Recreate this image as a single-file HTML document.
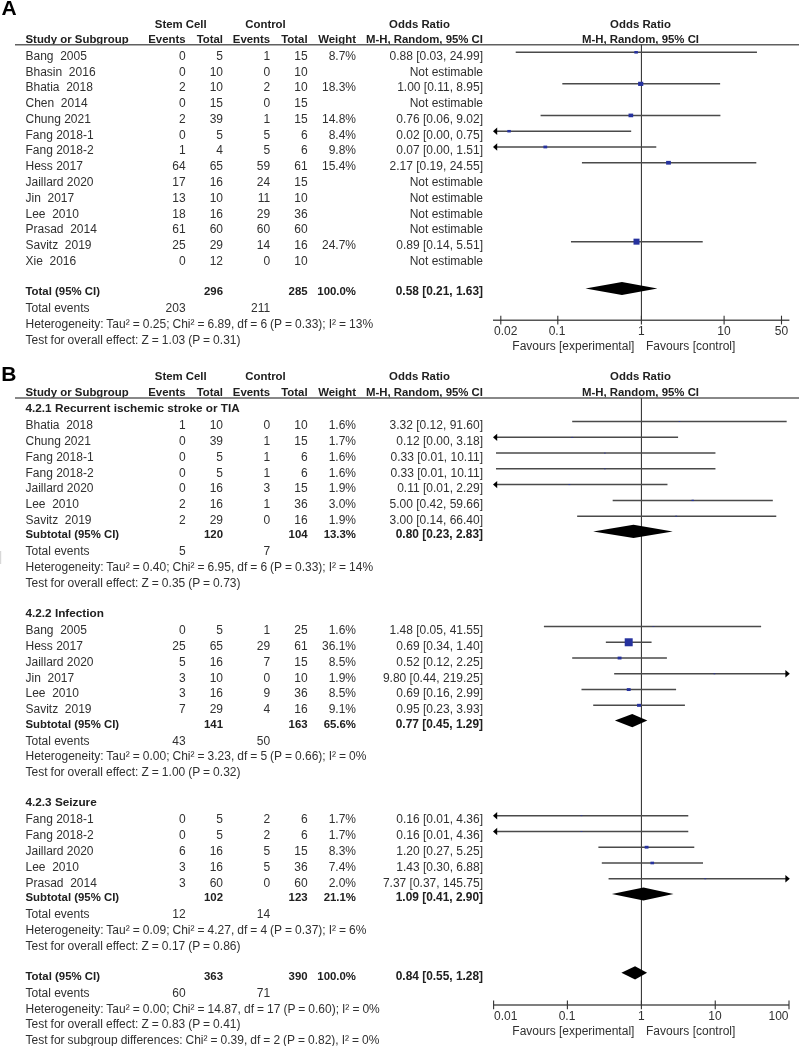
<!DOCTYPE html>
<html><head><meta charset="utf-8"><style>
html,body{margin:0;padding:0;background:#fff;}
svg{display:block;will-change:transform;}
text{font-family:"Liberation Sans", sans-serif;white-space:pre;}
</style></head><body>
<svg width="800" height="1046" viewBox="0 0 800 1046">
<rect width="800" height="1046" fill="#fff"/>
<text x="1.60" y="15.00" text-anchor="start" font-size="21" font-weight="bold" fill="#000">A</text>
<text x="180.75" y="27.50" text-anchor="middle" font-size="11.4" font-weight="bold" fill="#202020">Stem Cell</text>
<text x="265.50" y="27.50" text-anchor="middle" font-size="11.4" font-weight="bold" fill="#202020">Control</text>
<text x="419.50" y="27.50" text-anchor="middle" font-size="11.4" font-weight="bold" fill="#202020">Odds Ratio</text>
<text x="640.50" y="27.50" text-anchor="middle" font-size="11.4" font-weight="bold" fill="#202020">Odds Ratio</text>
<text x="25.50" y="43.00" text-anchor="start" font-size="11.4" font-weight="bold" fill="#202020">Study or Subgroup</text>
<text x="185.60" y="43.00" text-anchor="end" font-size="11.4" font-weight="bold" fill="#202020">Events</text>
<text x="223.00" y="43.00" text-anchor="end" font-size="11.4" font-weight="bold" fill="#202020">Total</text>
<text x="270.20" y="43.00" text-anchor="end" font-size="11.4" font-weight="bold" fill="#202020">Events</text>
<text x="307.60" y="43.00" text-anchor="end" font-size="11.4" font-weight="bold" fill="#202020">Total</text>
<text x="356.00" y="43.00" text-anchor="end" font-size="11.4" font-weight="bold" fill="#202020">Weight</text>
<text x="483.00" y="43.00" text-anchor="end" font-size="11.4" font-weight="bold" fill="#202020">M-H, Random, 95% CI</text>
<text x="640.50" y="43.00" text-anchor="middle" font-size="11.4" font-weight="bold" fill="#202020">M-H, Random, 95% CI</text>
<line x1="15.00" y1="44.75" x2="799.00" y2="44.75" stroke="#606060" stroke-width="1.7"/>
<line x1="641.40" y1="44.75" x2="641.40" y2="320.20" stroke="#262626" stroke-width="1.0"/>
<text x="25.50" y="59.80" text-anchor="start" font-size="12.0" fill="#303030">Bang  2005</text>
<text x="185.60" y="59.80" text-anchor="end" font-size="12.0" fill="#303030">0</text>
<text x="223.00" y="59.80" text-anchor="end" font-size="12.0" fill="#303030">5</text>
<text x="270.20" y="59.80" text-anchor="end" font-size="12.0" fill="#303030">1</text>
<text x="307.60" y="59.80" text-anchor="end" font-size="12.0" fill="#303030">15</text>
<text x="356.00" y="59.80" text-anchor="end" font-size="12.0" fill="#303030">8.7%</text>
<text x="483.00" y="59.80" text-anchor="end" font-size="12.0" fill="#303030">0.88 [0.03, 24.99]</text>
<line x1="515.71" y1="52.30" x2="756.96" y2="52.30" stroke="#4a4a4a" stroke-width="1.5"/>
<rect x="634.33" y="51.02" width="3.57" height="2.57" fill="#26329e"/>
<text x="25.50" y="75.58" text-anchor="start" font-size="12.0" fill="#303030">Bhasin  2016</text>
<text x="185.60" y="75.58" text-anchor="end" font-size="12.0" fill="#303030">0</text>
<text x="223.00" y="75.58" text-anchor="end" font-size="12.0" fill="#303030">10</text>
<text x="270.20" y="75.58" text-anchor="end" font-size="12.0" fill="#303030">0</text>
<text x="307.60" y="75.58" text-anchor="end" font-size="12.0" fill="#303030">10</text>
<text x="483.00" y="75.58" text-anchor="end" font-size="12.0" fill="#303030">Not estimable</text>
<text x="25.50" y="91.36" text-anchor="start" font-size="12.0" fill="#303030">Bhatia  2018</text>
<text x="185.60" y="91.36" text-anchor="end" font-size="12.0" fill="#303030">2</text>
<text x="223.00" y="91.36" text-anchor="end" font-size="12.0" fill="#303030">10</text>
<text x="270.20" y="91.36" text-anchor="end" font-size="12.0" fill="#303030">2</text>
<text x="307.60" y="91.36" text-anchor="end" font-size="12.0" fill="#303030">10</text>
<text x="356.00" y="91.36" text-anchor="end" font-size="12.0" fill="#303030">18.3%</text>
<text x="483.00" y="91.36" text-anchor="end" font-size="12.0" fill="#303030">1.00 [0.11, 8.95]</text>
<line x1="562.32" y1="83.86" x2="720.12" y2="83.86" stroke="#4a4a4a" stroke-width="1.5"/>
<rect x="638.11" y="81.77" width="5.18" height="4.18" fill="#26329e"/>
<text x="25.50" y="107.14" text-anchor="start" font-size="12.0" fill="#303030">Chen  2014</text>
<text x="185.60" y="107.14" text-anchor="end" font-size="12.0" fill="#303030">0</text>
<text x="223.00" y="107.14" text-anchor="end" font-size="12.0" fill="#303030">15</text>
<text x="270.20" y="107.14" text-anchor="end" font-size="12.0" fill="#303030">0</text>
<text x="307.60" y="107.14" text-anchor="end" font-size="12.0" fill="#303030">15</text>
<text x="483.00" y="107.14" text-anchor="end" font-size="12.0" fill="#303030">Not estimable</text>
<text x="25.50" y="122.92" text-anchor="start" font-size="12.0" fill="#303030">Chung 2021</text>
<text x="185.60" y="122.92" text-anchor="end" font-size="12.0" fill="#303030">2</text>
<text x="223.00" y="122.92" text-anchor="end" font-size="12.0" fill="#303030">39</text>
<text x="270.20" y="122.92" text-anchor="end" font-size="12.0" fill="#303030">1</text>
<text x="307.60" y="122.92" text-anchor="end" font-size="12.0" fill="#303030">15</text>
<text x="356.00" y="122.92" text-anchor="end" font-size="12.0" fill="#303030">14.8%</text>
<text x="483.00" y="122.92" text-anchor="end" font-size="12.0" fill="#303030">0.76 [0.06, 9.02]</text>
<line x1="540.58" y1="115.42" x2="720.40" y2="115.42" stroke="#4a4a4a" stroke-width="1.5"/>
<rect x="628.53" y="113.59" width="4.65" height="3.65" fill="#26329e"/>
<text x="25.50" y="138.70" text-anchor="start" font-size="12.0" fill="#303030">Fang 2018-1</text>
<text x="185.60" y="138.70" text-anchor="end" font-size="12.0" fill="#303030">0</text>
<text x="223.00" y="138.70" text-anchor="end" font-size="12.0" fill="#303030">5</text>
<text x="270.20" y="138.70" text-anchor="end" font-size="12.0" fill="#303030">5</text>
<text x="307.60" y="138.70" text-anchor="end" font-size="12.0" fill="#303030">6</text>
<text x="356.00" y="138.70" text-anchor="end" font-size="12.0" fill="#303030">8.4%</text>
<text x="483.00" y="138.70" text-anchor="end" font-size="12.0" fill="#303030">0.02 [0.00, 0.75]</text>
<line x1="496.00" y1="131.20" x2="631.18" y2="131.20" stroke="#4a4a4a" stroke-width="1.5"/>
<polygon points="493.00,131.20 497.20,127.50 497.20,134.90" fill="#000"/>
<rect x="507.33" y="129.95" width="3.51" height="2.51" fill="#26329e"/>
<text x="25.50" y="154.48" text-anchor="start" font-size="12.0" fill="#303030">Fang 2018-2</text>
<text x="185.60" y="154.48" text-anchor="end" font-size="12.0" fill="#303030">1</text>
<text x="223.00" y="154.48" text-anchor="end" font-size="12.0" fill="#303030">4</text>
<text x="270.20" y="154.48" text-anchor="end" font-size="12.0" fill="#303030">5</text>
<text x="307.60" y="154.48" text-anchor="end" font-size="12.0" fill="#303030">6</text>
<text x="356.00" y="154.48" text-anchor="end" font-size="12.0" fill="#303030">9.8%</text>
<text x="483.00" y="154.48" text-anchor="end" font-size="12.0" fill="#303030">0.07 [0.00, 1.51]</text>
<line x1="496.00" y1="146.98" x2="656.28" y2="146.98" stroke="#4a4a4a" stroke-width="1.5"/>
<polygon points="493.00,146.98 497.20,143.28 497.20,150.68" fill="#000"/>
<rect x="543.41" y="145.59" width="3.79" height="2.79" fill="#26329e"/>
<text x="25.50" y="170.26" text-anchor="start" font-size="12.0" fill="#303030">Hess 2017</text>
<text x="185.60" y="170.26" text-anchor="end" font-size="12.0" fill="#303030">64</text>
<text x="223.00" y="170.26" text-anchor="end" font-size="12.0" fill="#303030">65</text>
<text x="270.20" y="170.26" text-anchor="end" font-size="12.0" fill="#303030">59</text>
<text x="307.60" y="170.26" text-anchor="end" font-size="12.0" fill="#303030">61</text>
<text x="356.00" y="170.26" text-anchor="end" font-size="12.0" fill="#303030">15.4%</text>
<text x="483.00" y="170.26" text-anchor="end" font-size="12.0" fill="#303030">2.17 [0.19, 24.55]</text>
<line x1="581.93" y1="162.76" x2="756.32" y2="162.76" stroke="#4a4a4a" stroke-width="1.5"/>
<rect x="666.12" y="160.89" width="4.75" height="3.75" fill="#26329e"/>
<text x="25.50" y="186.04" text-anchor="start" font-size="12.0" fill="#303030">Jaillard 2020</text>
<text x="185.60" y="186.04" text-anchor="end" font-size="12.0" fill="#303030">17</text>
<text x="223.00" y="186.04" text-anchor="end" font-size="12.0" fill="#303030">16</text>
<text x="270.20" y="186.04" text-anchor="end" font-size="12.0" fill="#303030">24</text>
<text x="307.60" y="186.04" text-anchor="end" font-size="12.0" fill="#303030">15</text>
<text x="483.00" y="186.04" text-anchor="end" font-size="12.0" fill="#303030">Not estimable</text>
<text x="25.50" y="201.82" text-anchor="start" font-size="12.0" fill="#303030">Jin  2017</text>
<text x="185.60" y="201.82" text-anchor="end" font-size="12.0" fill="#303030">13</text>
<text x="223.00" y="201.82" text-anchor="end" font-size="12.0" fill="#303030">10</text>
<text x="270.20" y="201.82" text-anchor="end" font-size="12.0" fill="#303030">11</text>
<text x="307.60" y="201.82" text-anchor="end" font-size="12.0" fill="#303030">10</text>
<text x="483.00" y="201.82" text-anchor="end" font-size="12.0" fill="#303030">Not estimable</text>
<text x="25.50" y="217.60" text-anchor="start" font-size="12.0" fill="#303030">Lee  2010</text>
<text x="185.60" y="217.60" text-anchor="end" font-size="12.0" fill="#303030">18</text>
<text x="223.00" y="217.60" text-anchor="end" font-size="12.0" fill="#303030">16</text>
<text x="270.20" y="217.60" text-anchor="end" font-size="12.0" fill="#303030">29</text>
<text x="307.60" y="217.60" text-anchor="end" font-size="12.0" fill="#303030">36</text>
<text x="483.00" y="217.60" text-anchor="end" font-size="12.0" fill="#303030">Not estimable</text>
<text x="25.50" y="233.38" text-anchor="start" font-size="12.0" fill="#303030">Prasad  2014</text>
<text x="185.60" y="233.38" text-anchor="end" font-size="12.0" fill="#303030">61</text>
<text x="223.00" y="233.38" text-anchor="end" font-size="12.0" fill="#303030">60</text>
<text x="270.20" y="233.38" text-anchor="end" font-size="12.0" fill="#303030">60</text>
<text x="307.60" y="233.38" text-anchor="end" font-size="12.0" fill="#303030">60</text>
<text x="483.00" y="233.38" text-anchor="end" font-size="12.0" fill="#303030">Not estimable</text>
<text x="25.50" y="249.16" text-anchor="start" font-size="12.0" fill="#303030">Savitz  2019</text>
<text x="185.60" y="249.16" text-anchor="end" font-size="12.0" fill="#303030">25</text>
<text x="223.00" y="249.16" text-anchor="end" font-size="12.0" fill="#303030">29</text>
<text x="270.20" y="249.16" text-anchor="end" font-size="12.0" fill="#303030">14</text>
<text x="307.60" y="249.16" text-anchor="end" font-size="12.0" fill="#303030">16</text>
<text x="356.00" y="249.16" text-anchor="end" font-size="12.0" fill="#303030">24.7%</text>
<text x="483.00" y="249.16" text-anchor="end" font-size="12.0" fill="#303030">0.89 [0.14, 5.51]</text>
<line x1="570.97" y1="241.66" x2="702.72" y2="241.66" stroke="#4a4a4a" stroke-width="1.5"/>
<rect x="633.51" y="238.65" width="6.01" height="6.01" fill="#26329e"/>
<text x="25.50" y="264.94" text-anchor="start" font-size="12.0" fill="#303030">Xie  2016</text>
<text x="185.60" y="264.94" text-anchor="end" font-size="12.0" fill="#303030">0</text>
<text x="223.00" y="264.94" text-anchor="end" font-size="12.0" fill="#303030">12</text>
<text x="270.20" y="264.94" text-anchor="end" font-size="12.0" fill="#303030">0</text>
<text x="307.60" y="264.94" text-anchor="end" font-size="12.0" fill="#303030">10</text>
<text x="483.00" y="264.94" text-anchor="end" font-size="12.0" fill="#303030">Not estimable</text>
<text x="25.50" y="295.25" text-anchor="start" font-size="11.4" font-weight="bold" fill="#202020">Total (95% CI)</text>
<text x="223.00" y="295.25" text-anchor="end" font-size="11.4" font-weight="bold" fill="#202020">296</text>
<text x="307.60" y="295.25" text-anchor="end" font-size="11.4" font-weight="bold" fill="#202020">285</text>
<text x="356.00" y="295.25" text-anchor="end" font-size="11.4" font-weight="bold" fill="#202020">100.0%</text>
<text x="483.00" y="295.25" text-anchor="end" font-size="11.9" font-weight="bold" fill="#202020">0.58 [0.21, 1.63]</text>
<polygon points="585.52,288.50 621.96,281.90 657.43,288.50 621.96,295.10" fill="#000"/>
<text x="25.50" y="312.28" text-anchor="start" font-size="12.0" fill="#303030">Total events</text>
<text x="185.60" y="312.28" text-anchor="end" font-size="12.0" fill="#303030">203</text>
<text x="270.20" y="312.28" text-anchor="end" font-size="12.0" fill="#303030">211</text>
<text x="25.50" y="328.06" text-anchor="start" font-size="12.0" word-spacing="-0.3" fill="#303030">Heterogeneity: Tau² = 0.25; Chi² = 6.89, df = 6 (P = 0.33); I² = 13%</text>
<text x="25.50" y="343.84" text-anchor="start" font-size="12.0" word-spacing="-0.3" fill="#303030">Test for overall effect: Z = 1.03 (P = 0.31)</text>
<line x1="493.00" y1="320.20" x2="789.40" y2="320.20" stroke="#555" stroke-width="1.4"/>
<line x1="500.80" y1="315.70" x2="500.80" y2="324.40" stroke="#333" stroke-width="1.1"/>
<text x="494.00" y="335.40" text-anchor="start" font-size="12.0" fill="#303030">0.02</text>
<line x1="557.80" y1="315.70" x2="557.80" y2="324.40" stroke="#333" stroke-width="1.1"/>
<text x="557.00" y="335.40" text-anchor="middle" font-size="12.0" fill="#303030">0.1</text>
<line x1="641.40" y1="315.70" x2="641.40" y2="324.40" stroke="#333" stroke-width="1.1"/>
<text x="641.40" y="335.40" text-anchor="middle" font-size="12.0" fill="#303030">1</text>
<line x1="724.10" y1="315.70" x2="724.10" y2="324.40" stroke="#333" stroke-width="1.1"/>
<text x="724.00" y="335.40" text-anchor="middle" font-size="12.0" fill="#303030">10</text>
<line x1="781.50" y1="315.70" x2="781.50" y2="324.40" stroke="#333" stroke-width="1.1"/>
<text x="781.50" y="335.40" text-anchor="middle" font-size="12.0" fill="#303030">50</text>
<text x="634.40" y="349.50" text-anchor="end" font-size="12.0" fill="#303030">Favours [experimental]</text>
<text x="646.00" y="349.50" text-anchor="start" font-size="12.0" fill="#303030">Favours [control]</text>
<text x="1.20" y="380.60" text-anchor="start" font-size="21" font-weight="bold" fill="#000">B</text>
<rect x="0.00" y="551.00" width="1.20" height="13.00" fill="#d8d8d8"/>
<text x="180.75" y="380.00" text-anchor="middle" font-size="11.4" font-weight="bold" fill="#202020">Stem Cell</text>
<text x="265.50" y="380.00" text-anchor="middle" font-size="11.4" font-weight="bold" fill="#202020">Control</text>
<text x="419.50" y="380.00" text-anchor="middle" font-size="11.4" font-weight="bold" fill="#202020">Odds Ratio</text>
<text x="640.50" y="380.00" text-anchor="middle" font-size="11.4" font-weight="bold" fill="#202020">Odds Ratio</text>
<text x="25.50" y="396.30" text-anchor="start" font-size="11.4" font-weight="bold" fill="#202020">Study or Subgroup</text>
<text x="185.60" y="396.30" text-anchor="end" font-size="11.4" font-weight="bold" fill="#202020">Events</text>
<text x="223.00" y="396.30" text-anchor="end" font-size="11.4" font-weight="bold" fill="#202020">Total</text>
<text x="270.20" y="396.30" text-anchor="end" font-size="11.4" font-weight="bold" fill="#202020">Events</text>
<text x="307.60" y="396.30" text-anchor="end" font-size="11.4" font-weight="bold" fill="#202020">Total</text>
<text x="356.00" y="396.30" text-anchor="end" font-size="11.4" font-weight="bold" fill="#202020">Weight</text>
<text x="483.00" y="396.30" text-anchor="end" font-size="11.4" font-weight="bold" fill="#202020">M-H, Random, 95% CI</text>
<text x="640.50" y="396.30" text-anchor="middle" font-size="11.4" font-weight="bold" fill="#202020">M-H, Random, 95% CI</text>
<line x1="15.00" y1="398.00" x2="799.00" y2="398.00" stroke="#606060" stroke-width="1.7"/>
<line x1="641.40" y1="398.20" x2="641.40" y2="1005.00" stroke="#262626" stroke-width="1.0"/>
<text x="25.50" y="412.35" text-anchor="start" font-size="11.75" font-weight="bold" fill="#202020">4.2.1 Recurrent ischemic stroke or TIA</text>
<text x="25.50" y="429.37" text-anchor="start" font-size="12.0" fill="#303030">Bhatia  2018</text>
<text x="185.60" y="429.37" text-anchor="end" font-size="12.0" fill="#303030">1</text>
<text x="223.00" y="429.37" text-anchor="end" font-size="12.0" fill="#303030">10</text>
<text x="270.20" y="429.37" text-anchor="end" font-size="12.0" fill="#303030">0</text>
<text x="307.60" y="429.37" text-anchor="end" font-size="12.0" fill="#303030">10</text>
<text x="356.00" y="429.37" text-anchor="end" font-size="12.0" fill="#303030">1.6%</text>
<text x="483.00" y="429.37" text-anchor="end" font-size="12.0" fill="#303030">3.32 [0.12, 91.60]</text>
<line x1="572.19" y1="421.56" x2="786.67" y2="421.56" stroke="#4a4a4a" stroke-width="1.5"/>
<rect x="678.63" y="421.22" width="1.68" height="0.68" fill="#26329e"/>
<text x="25.50" y="445.13" text-anchor="start" font-size="12.0" fill="#303030">Chung 2021</text>
<text x="185.60" y="445.13" text-anchor="end" font-size="12.0" fill="#303030">0</text>
<text x="223.00" y="445.13" text-anchor="end" font-size="12.0" fill="#303030">39</text>
<text x="270.20" y="445.13" text-anchor="end" font-size="12.0" fill="#303030">1</text>
<text x="307.60" y="445.13" text-anchor="end" font-size="12.0" fill="#303030">15</text>
<text x="356.00" y="445.13" text-anchor="end" font-size="12.0" fill="#303030">1.7%</text>
<text x="483.00" y="445.13" text-anchor="end" font-size="12.0" fill="#303030">0.12 [0.00, 3.18]</text>
<line x1="496.60" y1="437.33" x2="678.08" y2="437.33" stroke="#4a4a4a" stroke-width="1.5"/>
<polygon points="493.00,437.33 497.20,433.63 497.20,441.03" fill="#000"/>
<rect x="571.32" y="436.96" width="1.73" height="0.73" fill="#26329e"/>
<text x="25.50" y="460.90" text-anchor="start" font-size="12.0" fill="#303030">Fang 2018-1</text>
<text x="185.60" y="460.90" text-anchor="end" font-size="12.0" fill="#303030">0</text>
<text x="223.00" y="460.90" text-anchor="end" font-size="12.0" fill="#303030">5</text>
<text x="270.20" y="460.90" text-anchor="end" font-size="12.0" fill="#303030">1</text>
<text x="307.60" y="460.90" text-anchor="end" font-size="12.0" fill="#303030">6</text>
<text x="356.00" y="460.90" text-anchor="end" font-size="12.0" fill="#303030">1.6%</text>
<text x="483.00" y="460.90" text-anchor="end" font-size="12.0" fill="#303030">0.33 [0.01, 10.11]</text>
<line x1="495.99" y1="453.10" x2="715.45" y2="453.10" stroke="#4a4a4a" stroke-width="1.5"/>
<rect x="604.04" y="452.75" width="1.68" height="0.68" fill="#26329e"/>
<text x="25.50" y="476.66" text-anchor="start" font-size="12.0" fill="#303030">Fang 2018-2</text>
<text x="185.60" y="476.66" text-anchor="end" font-size="12.0" fill="#303030">0</text>
<text x="223.00" y="476.66" text-anchor="end" font-size="12.0" fill="#303030">5</text>
<text x="270.20" y="476.66" text-anchor="end" font-size="12.0" fill="#303030">1</text>
<text x="307.60" y="476.66" text-anchor="end" font-size="12.0" fill="#303030">6</text>
<text x="356.00" y="476.66" text-anchor="end" font-size="12.0" fill="#303030">1.6%</text>
<text x="483.00" y="476.66" text-anchor="end" font-size="12.0" fill="#303030">0.33 [0.01, 10.11]</text>
<line x1="495.99" y1="468.86" x2="715.45" y2="468.86" stroke="#4a4a4a" stroke-width="1.5"/>
<rect x="604.04" y="468.52" width="1.68" height="0.68" fill="#26329e"/>
<text x="25.50" y="492.43" text-anchor="start" font-size="12.0" fill="#303030">Jaillard 2020</text>
<text x="185.60" y="492.43" text-anchor="end" font-size="12.0" fill="#303030">0</text>
<text x="223.00" y="492.43" text-anchor="end" font-size="12.0" fill="#303030">16</text>
<text x="270.20" y="492.43" text-anchor="end" font-size="12.0" fill="#303030">3</text>
<text x="307.60" y="492.43" text-anchor="end" font-size="12.0" fill="#303030">15</text>
<text x="356.00" y="492.43" text-anchor="end" font-size="12.0" fill="#303030">1.9%</text>
<text x="483.00" y="492.43" text-anchor="end" font-size="12.0" fill="#303030">0.11 [0.01, 2.29]</text>
<line x1="496.60" y1="484.62" x2="667.47" y2="484.62" stroke="#4a4a4a" stroke-width="1.5"/>
<polygon points="493.00,484.62 497.20,480.93 497.20,488.32" fill="#000"/>
<rect x="568.46" y="484.21" width="1.83" height="0.83" fill="#26329e"/>
<text x="25.50" y="508.19" text-anchor="start" font-size="12.0" fill="#303030">Lee  2010</text>
<text x="185.60" y="508.19" text-anchor="end" font-size="12.0" fill="#303030">2</text>
<text x="223.00" y="508.19" text-anchor="end" font-size="12.0" fill="#303030">16</text>
<text x="270.20" y="508.19" text-anchor="end" font-size="12.0" fill="#303030">1</text>
<text x="307.60" y="508.19" text-anchor="end" font-size="12.0" fill="#303030">36</text>
<text x="356.00" y="508.19" text-anchor="end" font-size="12.0" fill="#303030">3.0%</text>
<text x="483.00" y="508.19" text-anchor="end" font-size="12.0" fill="#303030">5.00 [0.42, 59.66]</text>
<line x1="612.67" y1="500.39" x2="772.81" y2="500.39" stroke="#4a4a4a" stroke-width="1.5"/>
<rect x="691.55" y="499.74" width="2.30" height="1.30" fill="#26329e"/>
<text x="25.50" y="523.96" text-anchor="start" font-size="12.0" fill="#303030">Savitz  2019</text>
<text x="185.60" y="523.96" text-anchor="end" font-size="12.0" fill="#303030">2</text>
<text x="223.00" y="523.96" text-anchor="end" font-size="12.0" fill="#303030">29</text>
<text x="270.20" y="523.96" text-anchor="end" font-size="12.0" fill="#303030">0</text>
<text x="307.60" y="523.96" text-anchor="end" font-size="12.0" fill="#303030">16</text>
<text x="356.00" y="523.96" text-anchor="end" font-size="12.0" fill="#303030">1.9%</text>
<text x="483.00" y="523.96" text-anchor="end" font-size="12.0" fill="#303030">3.00 [0.14, 66.40]</text>
<line x1="577.17" y1="516.15" x2="776.27" y2="516.15" stroke="#4a4a4a" stroke-width="1.5"/>
<rect x="675.28" y="515.74" width="1.83" height="0.83" fill="#26329e"/>
<text x="25.50" y="538.47" text-anchor="start" font-size="11.4" font-weight="bold" fill="#202020">Subtotal (95% CI)</text>
<text x="223.00" y="538.47" text-anchor="end" font-size="11.4" font-weight="bold" fill="#202020">120</text>
<text x="307.60" y="538.47" text-anchor="end" font-size="11.4" font-weight="bold" fill="#202020">104</text>
<text x="356.00" y="538.47" text-anchor="end" font-size="11.4" font-weight="bold" fill="#202020">13.3%</text>
<text x="483.00" y="538.47" text-anchor="end" font-size="11.9" font-weight="bold" fill="#202020">0.80 [0.23, 2.83]</text>
<polygon points="593.21,531.42 633.49,524.82 672.71,531.42 633.49,538.02" fill="#000"/>
<text x="25.50" y="555.49" text-anchor="start" font-size="12.0" fill="#303030">Total events</text>
<text x="185.60" y="555.49" text-anchor="end" font-size="12.0" fill="#303030">5</text>
<text x="270.20" y="555.49" text-anchor="end" font-size="12.0" fill="#303030">7</text>
<text x="25.50" y="571.25" text-anchor="start" font-size="12.0" word-spacing="-0.3" fill="#303030">Heterogeneity: Tau² = 0.40; Chi² = 6.95, df = 6 (P = 0.33); I² = 14%</text>
<text x="25.50" y="587.02" text-anchor="start" font-size="12.0" word-spacing="-0.3" fill="#303030">Test for overall effect: Z = 0.35 (P = 0.73)</text>
<text x="25.50" y="617.30" text-anchor="start" font-size="11.75" font-weight="bold" fill="#202020">4.2.2 Infection</text>
<text x="25.50" y="634.31" text-anchor="start" font-size="12.0" fill="#303030">Bang  2005</text>
<text x="185.60" y="634.31" text-anchor="end" font-size="12.0" fill="#303030">0</text>
<text x="223.00" y="634.31" text-anchor="end" font-size="12.0" fill="#303030">5</text>
<text x="270.20" y="634.31" text-anchor="end" font-size="12.0" fill="#303030">1</text>
<text x="307.60" y="634.31" text-anchor="end" font-size="12.0" fill="#303030">25</text>
<text x="356.00" y="634.31" text-anchor="end" font-size="12.0" fill="#303030">1.6%</text>
<text x="483.00" y="634.31" text-anchor="end" font-size="12.0" fill="#303030">1.48 [0.05, 41.55]</text>
<line x1="543.90" y1="626.51" x2="761.12" y2="626.51" stroke="#4a4a4a" stroke-width="1.5"/>
<rect x="652.53" y="626.17" width="1.68" height="0.68" fill="#26329e"/>
<text x="25.50" y="650.08" text-anchor="start" font-size="12.0" fill="#303030">Hess 2017</text>
<text x="185.60" y="650.08" text-anchor="end" font-size="12.0" fill="#303030">25</text>
<text x="223.00" y="650.08" text-anchor="end" font-size="12.0" fill="#303030">65</text>
<text x="270.20" y="650.08" text-anchor="end" font-size="12.0" fill="#303030">29</text>
<text x="307.60" y="650.08" text-anchor="end" font-size="12.0" fill="#303030">61</text>
<text x="356.00" y="650.08" text-anchor="end" font-size="12.0" fill="#303030">36.1%</text>
<text x="483.00" y="650.08" text-anchor="end" font-size="12.0" fill="#303030">0.69 [0.34, 1.40]</text>
<line x1="605.84" y1="642.28" x2="651.57" y2="642.28" stroke="#4a4a4a" stroke-width="1.5"/>
<rect x="624.71" y="638.28" width="7.99" height="7.99" fill="#26329e"/>
<text x="25.50" y="665.84" text-anchor="start" font-size="12.0" fill="#303030">Jaillard 2020</text>
<text x="185.60" y="665.84" text-anchor="end" font-size="12.0" fill="#303030">5</text>
<text x="223.00" y="665.84" text-anchor="end" font-size="12.0" fill="#303030">16</text>
<text x="270.20" y="665.84" text-anchor="end" font-size="12.0" fill="#303030">7</text>
<text x="307.60" y="665.84" text-anchor="end" font-size="12.0" fill="#303030">15</text>
<text x="356.00" y="665.84" text-anchor="end" font-size="12.0" fill="#303030">8.5%</text>
<text x="483.00" y="665.84" text-anchor="end" font-size="12.0" fill="#303030">0.52 [0.12, 2.25]</text>
<line x1="572.19" y1="658.04" x2="666.90" y2="658.04" stroke="#4a4a4a" stroke-width="1.5"/>
<rect x="617.63" y="656.60" width="3.88" height="2.88" fill="#26329e"/>
<text x="25.50" y="681.61" text-anchor="start" font-size="12.0" fill="#303030">Jin  2017</text>
<text x="185.60" y="681.61" text-anchor="end" font-size="12.0" fill="#303030">3</text>
<text x="223.00" y="681.61" text-anchor="end" font-size="12.0" fill="#303030">10</text>
<text x="270.20" y="681.61" text-anchor="end" font-size="12.0" fill="#303030">0</text>
<text x="307.60" y="681.61" text-anchor="end" font-size="12.0" fill="#303030">10</text>
<text x="356.00" y="681.61" text-anchor="end" font-size="12.0" fill="#303030">1.9%</text>
<text x="483.00" y="681.61" text-anchor="end" font-size="12.0" fill="#303030">9.80 [0.44, 219.25]</text>
<line x1="614.17" y1="673.81" x2="786.50" y2="673.81" stroke="#4a4a4a" stroke-width="1.5"/>
<polygon points="789.80,673.81 785.40,670.11 785.40,677.51" fill="#000"/>
<rect x="713.53" y="673.39" width="1.83" height="0.83" fill="#26329e"/>
<text x="25.50" y="697.37" text-anchor="start" font-size="12.0" fill="#303030">Lee  2010</text>
<text x="185.60" y="697.37" text-anchor="end" font-size="12.0" fill="#303030">3</text>
<text x="223.00" y="697.37" text-anchor="end" font-size="12.0" fill="#303030">16</text>
<text x="270.20" y="697.37" text-anchor="end" font-size="12.0" fill="#303030">9</text>
<text x="307.60" y="697.37" text-anchor="end" font-size="12.0" fill="#303030">36</text>
<text x="356.00" y="697.37" text-anchor="end" font-size="12.0" fill="#303030">8.5%</text>
<text x="483.00" y="697.37" text-anchor="end" font-size="12.0" fill="#303030">0.69 [0.16, 2.99]</text>
<line x1="581.49" y1="689.57" x2="676.09" y2="689.57" stroke="#4a4a4a" stroke-width="1.5"/>
<rect x="626.77" y="688.13" width="3.88" height="2.88" fill="#26329e"/>
<text x="25.50" y="713.13" text-anchor="start" font-size="12.0" fill="#303030">Savitz  2019</text>
<text x="185.60" y="713.13" text-anchor="end" font-size="12.0" fill="#303030">7</text>
<text x="223.00" y="713.13" text-anchor="end" font-size="12.0" fill="#303030">29</text>
<text x="270.20" y="713.13" text-anchor="end" font-size="12.0" fill="#303030">4</text>
<text x="307.60" y="713.13" text-anchor="end" font-size="12.0" fill="#303030">16</text>
<text x="356.00" y="713.13" text-anchor="end" font-size="12.0" fill="#303030">9.1%</text>
<text x="483.00" y="713.13" text-anchor="end" font-size="12.0" fill="#303030">0.95 [0.23, 3.93]</text>
<line x1="593.21" y1="705.34" x2="684.92" y2="705.34" stroke="#4a4a4a" stroke-width="1.5"/>
<rect x="637.04" y="703.83" width="4.01" height="3.01" fill="#26329e"/>
<text x="25.50" y="727.65" text-anchor="start" font-size="11.4" font-weight="bold" fill="#202020">Subtotal (95% CI)</text>
<text x="223.00" y="727.65" text-anchor="end" font-size="11.4" font-weight="bold" fill="#202020">141</text>
<text x="307.60" y="727.65" text-anchor="end" font-size="11.4" font-weight="bold" fill="#202020">163</text>
<text x="356.00" y="727.65" text-anchor="end" font-size="11.4" font-weight="bold" fill="#202020">65.6%</text>
<text x="483.00" y="727.65" text-anchor="end" font-size="11.9" font-weight="bold" fill="#202020">0.77 [0.45, 1.29]</text>
<polygon points="614.90,720.60 632.25,714.00 647.33,720.60 632.25,727.20" fill="#000"/>
<text x="25.50" y="744.66" text-anchor="start" font-size="12.0" fill="#303030">Total events</text>
<text x="185.60" y="744.66" text-anchor="end" font-size="12.0" fill="#303030">43</text>
<text x="270.20" y="744.66" text-anchor="end" font-size="12.0" fill="#303030">50</text>
<text x="25.50" y="760.43" text-anchor="start" font-size="12.0" word-spacing="-0.3" fill="#303030">Heterogeneity: Tau² = 0.00; Chi² = 3.23, df = 5 (P = 0.66); I² = 0%</text>
<text x="25.50" y="776.20" text-anchor="start" font-size="12.0" word-spacing="-0.3" fill="#303030">Test for overall effect: Z = 1.00 (P = 0.32)</text>
<text x="25.50" y="806.48" text-anchor="start" font-size="11.75" font-weight="bold" fill="#202020">4.2.3 Seizure</text>
<text x="25.50" y="823.49" text-anchor="start" font-size="12.0" fill="#303030">Fang 2018-1</text>
<text x="185.60" y="823.49" text-anchor="end" font-size="12.0" fill="#303030">0</text>
<text x="223.00" y="823.49" text-anchor="end" font-size="12.0" fill="#303030">5</text>
<text x="270.20" y="823.49" text-anchor="end" font-size="12.0" fill="#303030">2</text>
<text x="307.60" y="823.49" text-anchor="end" font-size="12.0" fill="#303030">6</text>
<text x="356.00" y="823.49" text-anchor="end" font-size="12.0" fill="#303030">1.7%</text>
<text x="483.00" y="823.49" text-anchor="end" font-size="12.0" fill="#303030">0.16 [0.01, 4.36]</text>
<line x1="496.60" y1="815.69" x2="688.28" y2="815.69" stroke="#4a4a4a" stroke-width="1.5"/>
<polygon points="493.00,815.69 497.20,811.99 497.20,819.39" fill="#000"/>
<rect x="580.62" y="815.32" width="1.73" height="0.73" fill="#26329e"/>
<text x="25.50" y="839.26" text-anchor="start" font-size="12.0" fill="#303030">Fang 2018-2</text>
<text x="185.60" y="839.26" text-anchor="end" font-size="12.0" fill="#303030">0</text>
<text x="223.00" y="839.26" text-anchor="end" font-size="12.0" fill="#303030">5</text>
<text x="270.20" y="839.26" text-anchor="end" font-size="12.0" fill="#303030">2</text>
<text x="307.60" y="839.26" text-anchor="end" font-size="12.0" fill="#303030">6</text>
<text x="356.00" y="839.26" text-anchor="end" font-size="12.0" fill="#303030">1.7%</text>
<text x="483.00" y="839.26" text-anchor="end" font-size="12.0" fill="#303030">0.16 [0.01, 4.36]</text>
<line x1="496.60" y1="831.46" x2="688.28" y2="831.46" stroke="#4a4a4a" stroke-width="1.5"/>
<polygon points="493.00,831.46 497.20,827.75 497.20,835.16" fill="#000"/>
<rect x="580.62" y="831.09" width="1.73" height="0.73" fill="#26329e"/>
<text x="25.50" y="855.02" text-anchor="start" font-size="12.0" fill="#303030">Jaillard 2020</text>
<text x="185.60" y="855.02" text-anchor="end" font-size="12.0" fill="#303030">6</text>
<text x="223.00" y="855.02" text-anchor="end" font-size="12.0" fill="#303030">16</text>
<text x="270.20" y="855.02" text-anchor="end" font-size="12.0" fill="#303030">5</text>
<text x="307.60" y="855.02" text-anchor="end" font-size="12.0" fill="#303030">15</text>
<text x="356.00" y="855.02" text-anchor="end" font-size="12.0" fill="#303030">8.3%</text>
<text x="483.00" y="855.02" text-anchor="end" font-size="12.0" fill="#303030">1.20 [0.27, 5.25]</text>
<line x1="598.39" y1="847.22" x2="694.28" y2="847.22" stroke="#4a4a4a" stroke-width="1.5"/>
<rect x="644.68" y="845.80" width="3.83" height="2.83" fill="#26329e"/>
<text x="25.50" y="870.79" text-anchor="start" font-size="12.0" fill="#303030">Lee  2010</text>
<text x="185.60" y="870.79" text-anchor="end" font-size="12.0" fill="#303030">3</text>
<text x="223.00" y="870.79" text-anchor="end" font-size="12.0" fill="#303030">16</text>
<text x="270.20" y="870.79" text-anchor="end" font-size="12.0" fill="#303030">5</text>
<text x="307.60" y="870.79" text-anchor="end" font-size="12.0" fill="#303030">36</text>
<text x="356.00" y="870.79" text-anchor="end" font-size="12.0" fill="#303030">7.4%</text>
<text x="483.00" y="870.79" text-anchor="end" font-size="12.0" fill="#303030">1.43 [0.30, 6.88]</text>
<line x1="601.80" y1="862.99" x2="703.02" y2="862.99" stroke="#4a4a4a" stroke-width="1.5"/>
<rect x="650.45" y="861.68" width="3.62" height="2.62" fill="#26329e"/>
<text x="25.50" y="886.55" text-anchor="start" font-size="12.0" fill="#303030">Prasad  2014</text>
<text x="185.60" y="886.55" text-anchor="end" font-size="12.0" fill="#303030">3</text>
<text x="223.00" y="886.55" text-anchor="end" font-size="12.0" fill="#303030">60</text>
<text x="270.20" y="886.55" text-anchor="end" font-size="12.0" fill="#303030">0</text>
<text x="307.60" y="886.55" text-anchor="end" font-size="12.0" fill="#303030">60</text>
<text x="356.00" y="886.55" text-anchor="end" font-size="12.0" fill="#303030">2.0%</text>
<text x="483.00" y="886.55" text-anchor="end" font-size="12.0" fill="#303030">7.37 [0.37, 145.75]</text>
<line x1="608.57" y1="878.75" x2="786.50" y2="878.75" stroke="#4a4a4a" stroke-width="1.5"/>
<polygon points="789.80,878.75 785.40,875.05 785.40,882.45" fill="#000"/>
<rect x="704.30" y="878.31" width="1.88" height="0.88" fill="#26329e"/>
<text x="25.50" y="901.07" text-anchor="start" font-size="11.4" font-weight="bold" fill="#202020">Subtotal (95% CI)</text>
<text x="223.00" y="901.07" text-anchor="end" font-size="11.4" font-weight="bold" fill="#202020">102</text>
<text x="307.60" y="901.07" text-anchor="end" font-size="11.4" font-weight="bold" fill="#202020">123</text>
<text x="356.00" y="901.07" text-anchor="end" font-size="11.4" font-weight="bold" fill="#202020">21.1%</text>
<text x="483.00" y="901.07" text-anchor="end" font-size="11.9" font-weight="bold" fill="#202020">1.09 [0.41, 2.90]</text>
<polygon points="611.89,894.02 643.48,887.42 673.50,894.02 643.48,900.62" fill="#000"/>
<text x="25.50" y="918.08" text-anchor="start" font-size="12.0" fill="#303030">Total events</text>
<text x="185.60" y="918.08" text-anchor="end" font-size="12.0" fill="#303030">12</text>
<text x="270.20" y="918.08" text-anchor="end" font-size="12.0" fill="#303030">14</text>
<text x="25.50" y="933.85" text-anchor="start" font-size="12.0" word-spacing="-0.3" fill="#303030">Heterogeneity: Tau² = 0.09; Chi² = 4.27, df = 4 (P = 0.37); I² = 6%</text>
<text x="25.50" y="949.61" text-anchor="start" font-size="12.0" word-spacing="-0.3" fill="#303030">Test for overall effect: Z = 0.17 (P = 0.86)</text>
<text x="25.50" y="979.89" text-anchor="start" font-size="11.4" font-weight="bold" fill="#202020">Total (95% CI)</text>
<text x="223.00" y="979.89" text-anchor="end" font-size="11.4" font-weight="bold" fill="#202020">363</text>
<text x="307.60" y="979.89" text-anchor="end" font-size="11.4" font-weight="bold" fill="#202020">390</text>
<text x="356.00" y="979.89" text-anchor="end" font-size="11.4" font-weight="bold" fill="#202020">100.0%</text>
<text x="483.00" y="979.89" text-anchor="end" font-size="11.9" font-weight="bold" fill="#202020">0.84 [0.55, 1.28]</text>
<polygon points="621.38,972.84 635.07,966.24 647.08,972.84 635.07,979.44" fill="#000"/>
<text x="25.50" y="996.91" text-anchor="start" font-size="12.0" fill="#303030">Total events</text>
<text x="185.60" y="996.91" text-anchor="end" font-size="12.0" fill="#303030">60</text>
<text x="270.20" y="996.91" text-anchor="end" font-size="12.0" fill="#303030">71</text>
<text x="25.50" y="1012.67" text-anchor="start" font-size="12.0" word-spacing="-0.3" fill="#303030">Heterogeneity: Tau² = 0.00; Chi² = 14.87, df = 17 (P = 0.60); I² = 0%</text>
<text x="25.50" y="1028.43" text-anchor="start" font-size="12.0" word-spacing="-0.3" fill="#303030">Test for overall effect: Z = 0.83 (P = 0.41)</text>
<text x="25.50" y="1044.20" text-anchor="start" font-size="12.0" word-spacing="-0.3" fill="#303030">Test for subgroup differences: Chi² = 0.39, df = 2 (P = 0.82), I² = 0%</text>
<line x1="493.60" y1="1005.00" x2="789.00" y2="1005.00" stroke="#555" stroke-width="1.4"/>
<line x1="493.60" y1="1000.50" x2="493.60" y2="1009.20" stroke="#333" stroke-width="1.1"/>
<text x="494.00" y="1020.20" text-anchor="start" font-size="12.0" fill="#303030">0.01</text>
<line x1="567.40" y1="1000.50" x2="567.40" y2="1009.20" stroke="#333" stroke-width="1.1"/>
<text x="567.00" y="1020.20" text-anchor="middle" font-size="12.0" fill="#303030">0.1</text>
<line x1="641.40" y1="1000.50" x2="641.40" y2="1009.20" stroke="#333" stroke-width="1.1"/>
<text x="641.40" y="1020.20" text-anchor="middle" font-size="12.0" fill="#303030">1</text>
<line x1="715.25" y1="1000.50" x2="715.25" y2="1009.20" stroke="#333" stroke-width="1.1"/>
<text x="715.00" y="1020.20" text-anchor="middle" font-size="12.0" fill="#303030">10</text>
<line x1="789.00" y1="1000.50" x2="789.00" y2="1009.20" stroke="#333" stroke-width="1.1"/>
<text x="788.50" y="1020.20" text-anchor="end" font-size="12.0" fill="#303030">100</text>
<text x="634.40" y="1035.00" text-anchor="end" font-size="12.0" fill="#303030">Favours [experimental]</text>
<text x="646.00" y="1035.00" text-anchor="start" font-size="12.0" fill="#303030">Favours [control]</text>
</svg></body></html>
